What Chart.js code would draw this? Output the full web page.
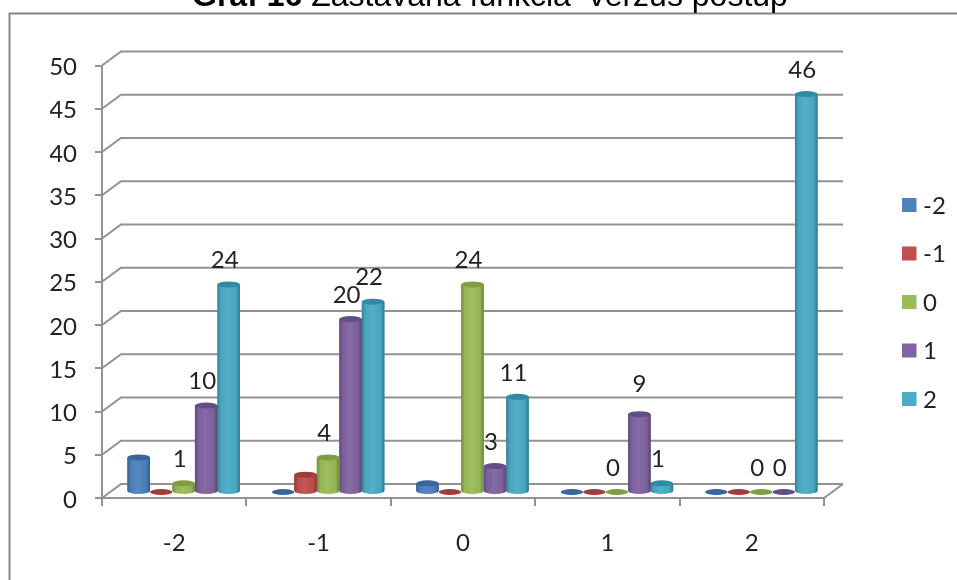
<!DOCTYPE html>
<html lang="sk">
  <head>
    <meta charset="UTF-8" />
    <title>Graf 16</title>
    <script src="https://cdn.jsdelivr.net/npm/chart.js"></script>
    <style>
      body { margin: 0; background: #fff; }
      canvas { display: block; }
    </style>
  </head>
  <body>
    <canvas id="chart" width="957" height="580"></canvas>

    <script>
      const categories = ["-2", "-1", "0", "1", "2"];
      const seriesNames = ["-2", "-1", "0", "1", "2"];
      const valuesA = [4, 0, 1, 0, 0];
      const valuesB = [0, 2, 0, 0, 0];
      const valuesC = [1, 4, 24, 0, 0];
      const valuesD = [10, 20, 3, 9, 0];
      const valuesE = [24, 22, 11, 1, 46];
      const seriesColors = ["#4f81bd", "#c0504d", "#9bbb59", "#8064a2", "#4bacc6"];
      const capColors = ["#38659b", "#a03c3a", "#7f9e44", "#644c84", "#2f8ba5"];
      // only the last three series carry value labels
      const labelledSeries = [2, 3, 4];
      const yTicks = [0, 5, 10, 15, 20, 25, 30, 35, 40, 45, 50];

      const LINE = "#929292";
      const FONT = "Lato, 'Open Sans', sans-serif";

      // walls sit further back than the axes, bars stand halfway between
      const depth = { x: 19, y: -14 };
      const barShift = { x: 9.5, y: -6 };

      const frame = {
        id: "frame",
        beforeDraw(chart) {
          const c = chart.ctx;
          c.save();
          c.fillStyle = "#fff";
          c.fillRect(0, 0, chart.width, chart.height);
          c.strokeStyle = "#868686";
          c.lineWidth = 2;
          c.beginPath();
          c.moveTo(9.5, chart.height);
          c.lineTo(9.5, 13.5);
          c.lineTo(chart.width, 13.5);
          c.stroke();

          // heading: the first words are bold
          c.fillStyle = "#000";
          c.textBaseline = "alphabetic";
          c.font = "bold 32px 'Liberation Sans'";
          const head = "Graf 16";
          c.fillText(head, 192, 6);
          const w = c.measureText(head + " ").width;
          c.font = "32px 'Liberation Sans'";
          c.fillText("Zastávaná funkcia  verzus postup", 192 + w, 6);
          c.restore();
        }
      };

      const walls = {
        id: "walls",
        beforeDatasetsDraw(chart) {
          const c = chart.ctx, y = chart.scales.y, a = chart.chartArea;
          c.save();
          c.strokeStyle = LINE;
          c.lineWidth = 2;
          c.beginPath();
          yTicks.forEach(t => {
            const py = y.getPixelForValue(t);
            c.moveTo(a.left, py);
            c.lineTo(a.left + depth.x, py + depth.y);
            c.lineTo(a.right + depth.x, py + depth.y);
          });
          c.moveTo(a.right + depth.x, a.bottom + depth.y);
          c.lineTo(a.right, a.bottom);
          c.stroke();
          c.restore();

          c.save();
          c.translate(barShift.x, barShift.y);
        },
        afterDatasetDraw(chart, args) {
          const c = chart.ctx, i = args.index;
          args.meta.data.forEach(bar => {
            const left = bar.x - bar.width / 2, rx = bar.width / 2, ry = 3;
            if (bar.base - bar.y > 0.5) {
              const g = c.createLinearGradient(left, 0, left + bar.width, 0);
              g.addColorStop(0, "rgba(0,0,0,0.26)");
              g.addColorStop(0.16, "rgba(0,0,0,0.03)");
              g.addColorStop(0.45, "rgba(255,255,255,0.05)");
              g.addColorStop(0.82, "rgba(0,0,0,0.03)");
              g.addColorStop(1, "rgba(0,0,0,0.3)");
              c.beginPath();
              c.moveTo(left, bar.y);
              c.lineTo(left, bar.base);
              c.ellipse(bar.x, bar.base, rx, ry, 0, Math.PI, 0, true);
              c.lineTo(left + bar.width, bar.y);
              c.closePath();
              c.fillStyle = seriesColors[i];
              c.fill();
              c.fillStyle = g;
              c.fill();
            }
            c.beginPath();
            c.ellipse(bar.x, bar.y, rx, ry, 0, 0, Math.PI * 2);
            c.fillStyle = capColors[i];
            c.fill();
          });
        },
        afterDatasetsDraw(chart) {
          chart.ctx.restore();
          const c = chart.ctx;
          c.save();
          c.font = "24px " + FONT;
          c.fillStyle = "#222";
          c.textAlign = "center";
          c.textBaseline = "middle";
          labelledSeries.forEach(i => {
            const values = chart.data.datasets[i].data;
            chart.getDatasetMeta(i).data.forEach((bar, k) => {
              // the 9 stands a little higher so it clears the gridline
              const up = values[k] === 9 ? 30 : 24;
              const side = values[k] === 9 ? 0 : -4;
              c.fillText(values[k], bar.x + barShift.x + side, bar.y + barShift.y - up);
            });
          });

          // legend column: tighter gap between swatch and text than the built-in one
          c.textAlign = "left";
          chart.data.datasets.forEach((ds, i) => {
            const row = 205 + i * 48.5;
            c.fillStyle = ds.backgroundColor;
            c.fillRect(902, row - 7, 14.5, 14);
            c.fillStyle = "#222";
            c.fillText(ds.label, 923, row + 1);
          });
          c.restore();
        }
      };

      const allValues = [valuesA, valuesB, valuesC, valuesD, valuesE];

      new Chart(document.getElementById("chart"), {
        type: "bar",
        data: {
          labels: categories,
          datasets: seriesNames.map((name, i) => ({
            label: name,
            data: allValues[i],
            backgroundColor: seriesColors[i],
            borderWidth: 0,
            clip: false
          }))
        },
        plugins: [frame, walls],
        options: {
          responsive: false,
          animation: false,
          categoryPercentage: 0.779,
          barPercentage: 1,
          layout: { padding: { left: 50, top: 65.5, bottom: 12, right: 133 } },
          plugins: {
            title: { display: false },
            tooltip: { enabled: false },
            legend: { display: false }
          },
          scales: {
            x: {
              afterFit(s) { s.height = 70; },
              border: { color: LINE, width: 2 },
              grid: { drawOnChartArea: false, color: LINE, lineWidth: 2, tickLength: 8 },
              ticks: { color: "#222", padding: 23, maxRotation: 0, font: { family: FONT, size: 24 } }
            },
            y: {
              min: 0,
              max: 50,
              afterFit(s) { s.width = 52; },
              border: { color: LINE, width: 2 },
              grid: { drawOnChartArea: false, color: LINE, lineWidth: 2, tickLength: 7 },
              ticks: { color: "#222", stepSize: 5, padding: 18, labelOffset: 2, font: { family: FONT, size: 24 } }
            }
          }
        }
      });
    </script>
  </body>
</html>
